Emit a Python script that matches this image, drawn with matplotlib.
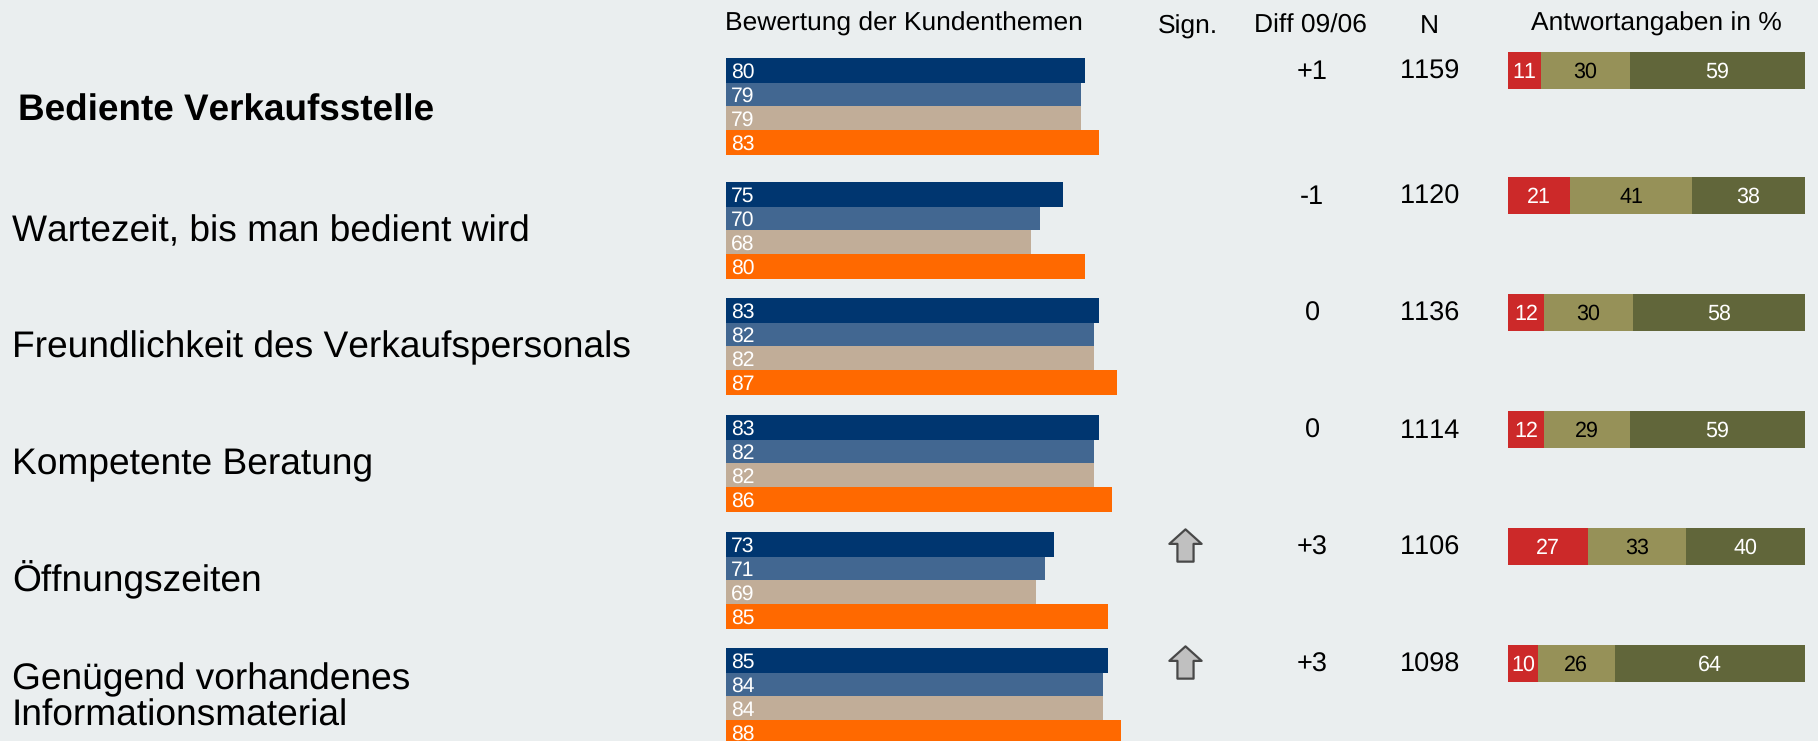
import matplotlib
matplotlib.use("Agg")
import matplotlib.pyplot as plt
from matplotlib.path import Path

plt.rcParams["font.family"] = ["Liberation Sans", "DejaVu Sans"]
plt.rcParams["text.kerning_factor"] = 6
plt.rcParams["text.hinting"] = "no_hinting"

# Survey topics
topics = ["Bediente Verkaufsstelle", "Wartezeit, bis man bedient wird",
          "Freundlichkeit des Verkaufspersonals", "Kompetente Beratung",
          "Öffnungszeiten", "Genügend vorhandenes\nInformationsmaterial"]

# Topic ratings, one list per series
rating_a = [80, 75, 83, 83, 73, 85]
rating_b = [79, 70, 82, 82, 71, 84]
rating_c = [79, 68, 82, 82, 69, 84]
rating_d = [83, 80, 87, 86, 85, 88]

# Table columns
significant = [0, 0, 0, 0, 1, 1]
diff = ["+1", "-1", "0", "0", "+3", "+3"]
n_answers = [1159, 1120, 1136, 1114, 1106, 1098]

# Answer shares in percent
share_low = [11, 21, 12, 12, 27, 10]
share_mid = [30, 41, 30, 29, 33, 26]
share_high = [59, 38, 58, 59, 40, 64]

W, H = 1818, 741
BG = "#eaeeef"
RATING_COLORS = ["#003670", "#426791", "#c1ad98", "#ff6900"]
SHARE_COLORS = ["#cc2929", "#969158", "#61663a"]
SHARE_TEXT = ["white", "black", "white"]

# Vertical layout in pixels from the top of the figure
group_tops = [58, 182, 298, 415, 532, 648]
bar_h = 24
share_tops = [52, 177, 294, 411, 528, 645]
share_h = 37
label_y = [111.5, 231.5, 348, 465, 579.5, 698]

fig = plt.figure(figsize=(W / 100, H / 100), dpi=100, facecolor=BG)


def pixel_axes(x0, x1, xlim):
    """Transparent full-height axes; y runs in pixels from the top."""
    ax = fig.add_axes([x0 / W, 0, (x1 - x0) / W, 1])
    ax.set_xlim(*xlim)
    ax.set_ylim(H, 0)
    ax.axis("off")
    return ax


# Rating bars
ax_bar = pixel_axes(726, 726 + 449.2, (0, 100))
for j, series in enumerate([rating_a, rating_b, rating_c, rating_d]):
    for top, value in zip(group_tops, series):
        y = top + j * bar_h
        ax_bar.barh(y, value, height=bar_h + (1 if j in (0, 3) else 0),
                    align="edge", color=RATING_COLORS[j], linewidth=0, zorder=2 + (j == 0))
        ax_bar.text(1.1, y + 19.5, str(value), color="white", fontsize=15.2,
                    va="baseline", ha="left", zorder=5)

# Answer share bars
ax_share = pixel_axes(1508, 1805, (0, 100))
for top, parts in zip(share_tops, zip(share_low, share_mid, share_high)):
    left = 0
    for k, part in enumerate(parts):
        ax_share.barh(top, part, left=left, height=share_h, align="edge",
                      color=SHARE_COLORS[k], linewidth=0)
        ax_share.text(left + part / 2, top + share_h / 2 + 1.5, str(part),
                      color=SHARE_TEXT[k], fontsize=15.5, ha="center", va="center")
        left += part

# Overlay for labels and table columns, in figure pixels
ax_txt = pixel_axes(0, W, (0, W))
for i, (name, y) in enumerate(zip(topics, label_y)):
    if i == 0:
        ax_txt.text(18, y, name, fontsize=26.6, fontweight="bold", va="center", ha="left")
    else:
        ax_txt.text(12, y, name, fontsize=26.7, va="center", ha="left", linespacing=1.07)

up_arrow = Path([(0, 1), (1, 0.1), (0.5, 0.1), (0.5, -1), (-0.5, -1), (-0.5, 0.1),
                 (-1, 0.1), (0, 1)], closed=True)
for flag, top, d, n in zip(significant, share_tops, diff, n_answers):
    cy = top + share_h / 2
    if flag:
        ax_txt.scatter([1185], [cy - 2], marker=up_arrow, s=540, c="#c0c0c0",
                       edgecolors="#484848", linewidths=1.6, zorder=4)
    ax_txt.text(1312, cy + 1.5, d, fontsize=19.5, ha="center", va="center")
    ax_txt.text(1430, cy + 1.5, str(n), fontsize=19.5, ha="center", va="center")

# Column headers
ax_txt.text(725, 24, "Bewertung der Kundenthemen", fontsize=19, ha="left", va="center")
ax_txt.text(1188, 27, "Sign.", fontsize=19, ha="center", va="center")
ax_txt.text(1310, 26, "Diff 09/06", fontsize=19, ha="center", va="center")
ax_txt.text(1429, 26, "N", fontsize=19, ha="center", va="center")
ax_txt.text(1656, 24, "Antwortangaben in %", fontsize=19, ha="center", va="center")

fig.savefig("out.png", dpi=100, facecolor=BG)
